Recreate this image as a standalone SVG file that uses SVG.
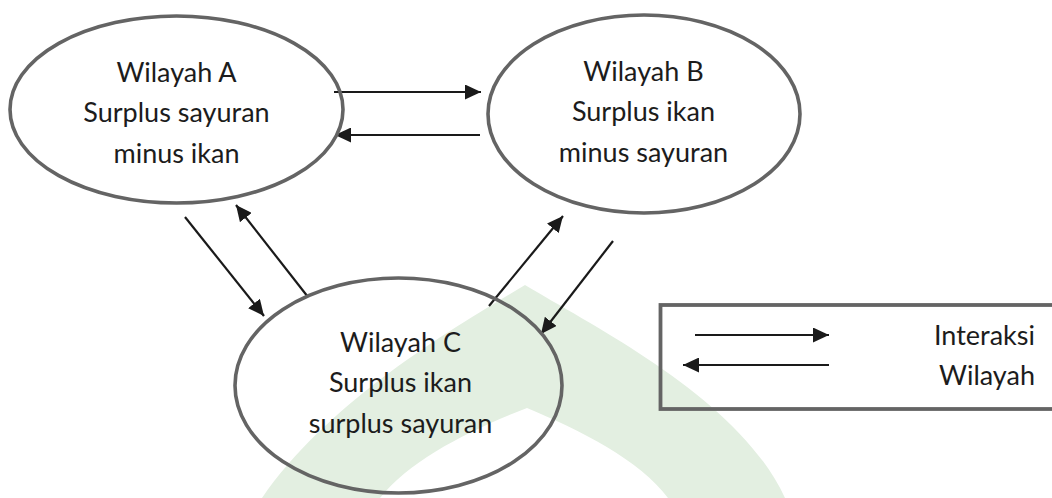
<svg xmlns="http://www.w3.org/2000/svg" width="1052" height="498" viewBox="0 0 1052 498">
<style>
.node{fill:none;stroke:#646464;stroke-width:3.6}
.lbl{font-family:Lato,"Liberation Sans",sans-serif;font-size:27px;fill:#1c1c1c;text-anchor:middle}
.leg{font-family:Lato,"Liberation Sans",sans-serif;font-size:27px;fill:#1c1c1c;text-anchor:end}
.con{stroke:#1a1a1a;stroke-width:2.2;fill:none;marker-end:url(#ah)}
</style>
<defs>
<marker id="ah" viewBox="0 0 16 15" refX="16" refY="7.5" markerWidth="16" markerHeight="15" markerUnits="userSpaceOnUse" orient="auto">
<path d="M0,0 L16,7.5 L0,15 Z" fill="#1a1a1a"/>
</marker>
</defs>
<rect width="1052" height="498" fill="#ffffff"/>
<g id="watermark">
<path d="M262,498 C330,400 450,330 525,285 C600,330 740,400 785,498 L668,498 C640,460 580,430 527,408 C470,430 410,460 380,498 Z" fill="#e3efe1"/>
</g>
<g id="connectors">
<line class="con" x1="334" y1="92" x2="481" y2="92"/>
<line class="con" x1="480" y1="135" x2="335" y2="135"/>
<line class="con" x1="185" y1="217" x2="264" y2="316"/>
<line class="con" x1="308" y1="297" x2="236" y2="205"/>
<line class="con" x1="489" y1="306" x2="563" y2="216"/>
<line class="con" x1="613" y1="241" x2="541" y2="334"/>
</g>
<g id="nodeA">
<ellipse class="node" cx="176.5" cy="109.5" rx="166.5" ry="93.5"/>
<text class="lbl" x="176.5" y="82">Wilayah A</text>
<text class="lbl" x="176.5" y="122">Surplus sayuran</text>
<text class="lbl" x="176.5" y="162.5">minus ikan</text>
</g>
<g id="nodeB">
<ellipse class="node" cx="644" cy="114" rx="156" ry="99"/>
<text class="lbl" x="643.5" y="81">Wilayah B</text>
<text class="lbl" x="643.5" y="121">Surplus ikan</text>
<text class="lbl" x="643.5" y="162">minus sayuran</text>
</g>
<g id="nodeC">
<ellipse class="node" cx="398.5" cy="385.5" rx="163.5" ry="107.5"/>
<text class="lbl" x="400.5" y="352">Wilayah C</text>
<text class="lbl" x="400.5" y="392">Surplus ikan</text>
<text class="lbl" x="400.5" y="433">surplus sayuran</text>
</g>
<g id="legend">
<rect x="660.5" y="305" width="400" height="104" fill="none" stroke="#646464" stroke-width="3.8"/>
<line class="con" x1="695" y1="335" x2="829" y2="335"/>
<line class="con" x1="829" y1="365" x2="683" y2="365"/>
<text class="leg" x="1035" y="345">Interaksi</text>
<text class="leg" x="1035" y="385">Wilayah</text>
</g>
</svg>
